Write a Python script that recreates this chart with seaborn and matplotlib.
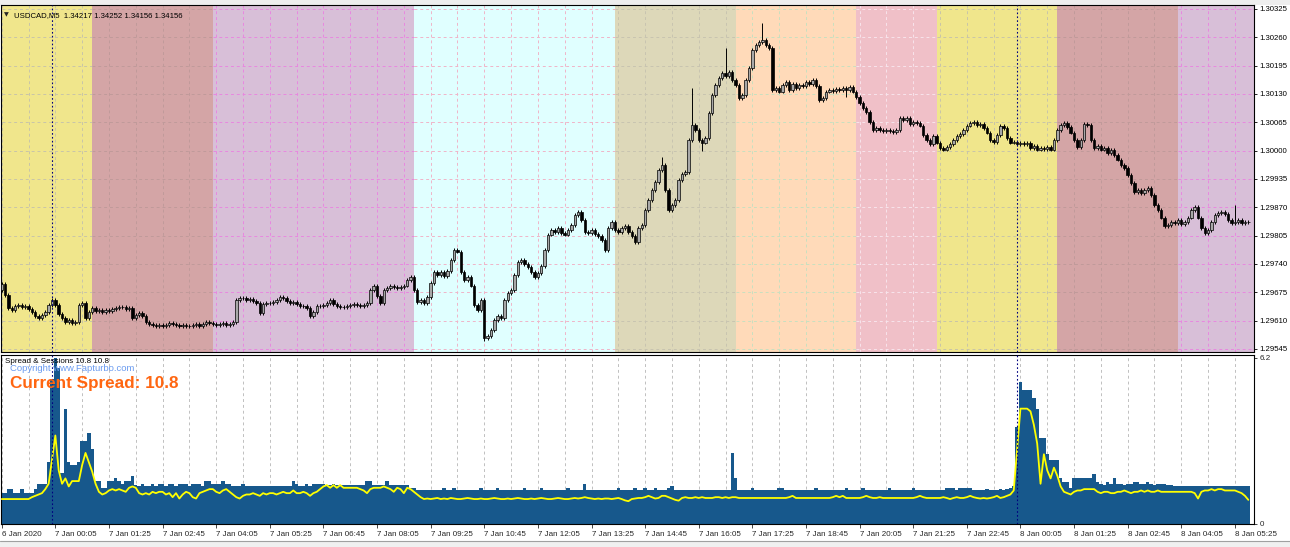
import numpy as np
import pandas as pd
import matplotlib
matplotlib.use("Agg")
import matplotlib.pyplot as plt
from matplotlib.patches import Rectangle
import seaborn as sns

# ---------------- data (5-minute bars, 6 Jan 22:45 -> 8 Jan 05:45) ----------------
FIRST_OPEN = 1.29680
CLOSE = [
    1.29694, 1.29669, 1.29639, 1.29634, 1.29644, 1.29646, 1.29641, 1.29644, 1.29637, 1.29630,
    1.29621, 1.29616, 1.29623, 1.29630, 1.29646, 1.29657, 1.29646, 1.29625, 1.29616, 1.29607,
    1.29611, 1.29605, 1.29607, 1.29646, 1.29650, 1.29616, 1.29630, 1.29639, 1.29632, 1.29634,
    1.29630, 1.29634, 1.29632, 1.29637, 1.29639, 1.29641, 1.29641, 1.29637, 1.29639, 1.29616,
    1.29623, 1.29628, 1.29621, 1.29607, 1.29602, 1.29600, 1.29598, 1.29600, 1.29598, 1.29600,
    1.29605, 1.29602, 1.29600, 1.29598, 1.29600, 1.29598, 1.29598, 1.29600, 1.29602, 1.29598,
    1.29602, 1.29607, 1.29605, 1.29602, 1.29600, 1.29602, 1.29605, 1.29600, 1.29602, 1.29607,
    1.29657, 1.29662, 1.29662, 1.29657, 1.29660, 1.29655, 1.29650, 1.29628, 1.29648, 1.29650,
    1.29650, 1.29653, 1.29657, 1.29664, 1.29662, 1.29655, 1.29650, 1.29653, 1.29648, 1.29644,
    1.29644, 1.29639, 1.29621, 1.29630, 1.29644, 1.29644, 1.29646, 1.29650, 1.29657, 1.29648,
    1.29644, 1.29641, 1.29641, 1.29644, 1.29646, 1.29648, 1.29646, 1.29644, 1.29646, 1.29650,
    1.29680, 1.29690, 1.29667, 1.29650, 1.29680, 1.29685, 1.29690, 1.29687, 1.29685, 1.29687,
    1.29690, 1.29703, 1.29710, 1.29680, 1.29653, 1.29657, 1.29650, 1.29664, 1.29696, 1.29722,
    1.29715, 1.29722, 1.29712, 1.29724, 1.29749, 1.29772, 1.29768, 1.29722, 1.29703, 1.29710,
    1.29690, 1.29646, 1.29634, 1.29657, 1.29570, 1.29575, 1.29589, 1.29611, 1.29621, 1.29616,
    1.29657, 1.29673, 1.29680, 1.29715, 1.29745, 1.29749, 1.29740, 1.29733, 1.29722, 1.29710,
    1.29719, 1.29735, 1.29772, 1.29807, 1.29818, 1.29813, 1.29823, 1.29811, 1.29807, 1.29818,
    1.29829, 1.29852, 1.29859, 1.29841, 1.29813, 1.29811, 1.29818, 1.29809, 1.29804, 1.29795,
    1.29772, 1.29823, 1.29836, 1.29818, 1.29813, 1.29823, 1.29827, 1.29813, 1.29804, 1.29790,
    1.29823, 1.29829, 1.29864, 1.29887, 1.29910, 1.29928, 1.29956, 1.29967, 1.29910, 1.29864,
    1.29875, 1.29887, 1.29933, 1.29946, 1.29951, 1.30024, 1.30059, 1.30047, 1.30024, 1.30018,
    1.30029, 1.30086, 1.30128, 1.30151, 1.30167, 1.30178, 1.30171, 1.30180, 1.30162, 1.30151,
    1.30121, 1.30128, 1.30162, 1.30190, 1.30231, 1.30242, 1.30249, 1.30254, 1.30242, 1.30235,
    1.30139, 1.30144, 1.30135, 1.30151, 1.30157, 1.30139, 1.30153, 1.30144, 1.30151, 1.30148,
    1.30157, 1.30153, 1.30162, 1.30148, 1.30116, 1.30121, 1.30135, 1.30139, 1.30137, 1.30141,
    1.30139, 1.30144, 1.30139, 1.30146, 1.30135, 1.30123, 1.30109, 1.30098, 1.30089, 1.30066,
    1.30047, 1.30052, 1.30047, 1.30045, 1.30047, 1.30045, 1.30043, 1.30047, 1.30075, 1.30070,
    1.30075, 1.30061, 1.30066, 1.30063, 1.30057, 1.30036, 1.30024, 1.30015, 1.30034, 1.30018,
    1.30006, 1.30002, 1.30008, 1.30015, 1.30024, 1.30034, 1.30038, 1.30047, 1.30057, 1.30063,
    1.30066, 1.30059, 1.30061, 1.30052, 1.30041, 1.30024, 1.30020, 1.30036, 1.30057, 1.30052,
    1.30029, 1.30018, 1.30020, 1.30015, 1.30018, 1.30015, 1.30018, 1.30006, 1.30011, 1.30002,
    1.30006, 1.30004, 1.30008, 1.30002, 1.30024, 1.30047, 1.30059, 1.30063, 1.30054, 1.30041,
    1.30024, 1.30008, 1.30024, 1.30061, 1.30059, 1.30024, 1.30006, 1.30011, 1.30002, 1.30006,
    1.29995, 1.30002, 1.29990, 1.29979, 1.29967, 1.29960, 1.29944, 1.29926, 1.29905, 1.29910,
    1.29903, 1.29910, 1.29914, 1.29898, 1.29875, 1.29864, 1.29846, 1.29827, 1.29829, 1.29836,
    1.29834, 1.29841, 1.29832, 1.29836, 1.29846, 1.29864, 1.29871, 1.29846, 1.29823, 1.29811,
    1.29818, 1.29836, 1.29852, 1.29857, 1.29859, 1.29855, 1.29841, 1.29834, 1.29836, 1.29841,
    1.29834, 1.29836, 1.29836,
]
HIGH_WICKS = {197: 1.29985, 206: 1.30144, 216: 1.30235, 227: 1.30293, 368: 1.29876}
LOW_WICKS = {144: 1.29563, 209: 1.30000, 252: 1.30122}

SPREAD = [
    1.15, 1.15, 1.3, 1.3, 1.15, 1.15, 1.3, 1.15, 1.15, 1.15,
    1.3, 1.5, 1.5, 1.5, 2.3, 5.4, 6.2, 5.8, 1.9, 4.3,
    2.3, 2.2, 2.2, 2.3, 3.1, 3.1, 3.4, 2.8, 1.6, 1.6,
    1.35, 1.35, 1.6, 1.6, 1.7, 1.6, 1.5, 1.6, 1.6, 1.8,
    1.45, 1.4, 1.5, 1.4, 1.4, 1.5, 1.4, 1.5, 1.5, 1.4,
    1.5, 1.5, 1.4, 1.5, 1.5, 1.5, 1.4, 1.5, 1.5, 1.5,
    1.4, 1.6, 1.6, 1.5, 1.5, 1.5, 1.6, 1.5, 1.5, 1.4,
    1.4, 1.4, 1.5, 1.4, 1.4, 1.4, 1.4, 1.4, 1.4, 1.4,
    1.4, 1.4, 1.4, 1.4, 1.4, 1.4, 1.4, 1.6, 1.5, 1.4,
    1.4, 1.5, 1.4, 1.5, 1.5, 1.5, 1.5, 1.45, 1.45, 1.5,
    1.45, 1.45, 1.45, 1.45, 1.45, 1.45, 1.45, 1.45, 1.45, 1.6,
    1.6, 1.45, 1.45, 1.45, 1.45, 1.6, 1.45, 1.45, 1.45, 1.45,
    1.45, 1.45, 1.35, 1.35, 1.25, 1.25, 1.25, 1.25, 1.25, 1.25,
    1.25, 1.25, 1.35, 1.25, 1.25, 1.35, 1.25, 1.25, 1.25, 1.25,
    1.25, 1.25, 1.25, 1.35, 1.25, 1.25, 1.25, 1.25, 1.35, 1.25,
    1.25, 1.25, 1.25, 1.25, 1.25, 1.25, 1.35, 1.25, 1.25, 1.25,
    1.25, 1.35, 1.25, 1.25, 1.25, 1.25, 1.25, 1.25, 1.25, 1.35,
    1.25, 1.25, 1.25, 1.25, 1.5, 1.25, 1.25, 1.25, 1.25, 1.25,
    1.25, 1.25, 1.25, 1.25, 1.35, 1.25, 1.25, 1.25, 1.25, 1.35,
    1.25, 1.25, 1.35, 1.25, 1.25, 1.35, 1.25, 1.25, 1.25, 1.35,
    1.4, 1.25, 1.25, 1.25, 1.25, 1.25, 1.25, 1.25, 1.25, 1.25,
    1.25, 1.25, 1.25, 1.25, 1.25, 1.25, 1.25, 1.25, 2.65, 1.7,
    1.25, 1.25, 1.25, 1.25, 1.35, 1.25, 1.25, 1.25, 1.25, 1.25,
    1.25, 1.25, 1.35, 1.35, 1.25, 1.25, 1.25, 1.25, 1.25, 1.25,
    1.25, 1.25, 1.25, 1.35, 1.25, 1.25, 1.25, 1.25, 1.25, 1.25,
    1.25, 1.25, 1.35, 1.25, 1.25, 1.25, 1.25, 1.35, 1.25, 1.25,
    1.25, 1.25, 1.25, 1.25, 1.25, 1.35, 1.25, 1.25, 1.25, 1.25,
    1.25, 1.25, 1.35, 1.25, 1.25, 1.25, 1.25, 1.25, 1.25, 1.25,
    1.25, 1.25, 1.35, 1.35, 1.35, 1.25, 1.35, 1.35, 1.35, 1.35,
    1.25, 1.25, 1.25, 1.25, 1.3, 1.25, 1.25, 1.25, 1.3, 1.25,
    1.3, 1.35, 1.4, 3.6, 5.3, 5.0, 5.0, 5.0, 4.7, 4.3,
    3.2, 3.2, 2.6, 2.4, 2.4, 2.4, 1.7, 1.55, 1.55, 1.35,
    1.7, 1.7, 1.7, 1.7, 1.7, 1.7, 1.85, 1.55, 1.5, 1.45,
    1.55, 1.5, 1.7, 1.5, 1.5, 1.45, 1.5, 1.5, 1.55, 1.55,
    1.5, 1.5, 1.55, 1.5, 1.45, 1.5, 1.5, 1.5, 1.45, 1.45,
    1.4, 1.4, 1.4, 1.4, 1.4, 1.4, 1.4, 1.4, 1.4, 1.4,
    1.4, 1.4, 1.4, 1.4, 1.4, 1.4, 1.4, 1.4, 1.4, 1.4,
    1.4, 1.4, 1.4,
]

AVG_SPREAD = [
    0.93, 0.93, 0.93, 0.93, 0.93, 0.93, 0.93, 0.93, 0.93, 1.0,
    1.05, 1.1, 1.15, 1.3, 1.5, 2.4, 3.3, 2.0, 1.5, 1.7,
    1.4, 1.6, 1.6, 1.6, 2.2, 2.65, 2.3, 1.95, 1.5, 1.2,
    1.1, 1.15, 1.25, 1.3, 1.25, 1.3, 1.25, 1.2, 1.35, 1.4,
    1.35, 1.15, 1.1, 1.15, 1.1, 1.2, 1.15, 1.2, 1.2, 1.1,
    1.15, 1.0, 1.15, 0.95, 1.1, 1.2, 1.15, 1.0, 0.95, 1.15,
    1.2, 1.25, 1.3, 1.3, 1.2, 1.15, 1.25, 1.3, 1.2, 1.1,
    1.0, 0.95, 1.05, 1.1, 1.1, 1.15, 1.1, 1.05, 1.15, 1.1,
    1.15, 1.15, 1.1, 1.15, 1.2, 1.15, 1.15, 1.25, 1.15, 1.15,
    1.2, 1.15, 1.05, 1.15, 1.2, 1.3, 1.4, 1.45, 1.35, 1.45,
    1.35, 1.45, 1.35, 1.35, 1.35, 1.35, 1.35, 1.3, 1.25, 1.15,
    1.3, 1.35, 1.35, 1.35, 1.4, 1.35, 1.3, 1.2, 1.35, 1.3,
    1.15, 1.35, 1.3, 1.2, 1.1, 1.0, 0.93, 0.95, 0.93, 0.95,
    0.97, 0.93, 0.95, 0.93, 0.97, 0.95, 0.93, 0.93, 0.95, 0.97,
    0.95, 0.93, 0.93, 0.95, 0.93, 0.93, 0.95, 0.97, 0.95, 0.93,
    0.93, 0.95, 0.93, 0.95, 0.97, 0.95, 0.93, 0.93, 0.95, 0.93,
    0.95, 0.97, 0.95, 0.93, 0.93, 0.95, 0.97, 0.95, 0.93, 0.93,
    0.95, 0.97, 0.95, 0.97, 1.0, 0.97, 0.95, 0.93, 0.95, 0.93,
    0.95, 0.95, 0.93, 0.95, 0.97, 0.93, 0.88, 0.85, 0.93, 0.95,
    0.97, 0.97, 1.0, 1.05, 1.0, 0.95, 0.97, 1.05, 1.05, 1.0,
    0.95, 0.9, 0.87, 0.97, 1.0, 0.97, 0.97, 1.0, 0.97, 1.0,
    0.97, 0.97, 0.97, 1.0, 1.0, 0.97, 1.0, 0.97, 1.0, 1.0,
    0.97, 0.97, 0.97, 0.97, 0.97, 0.97, 0.97, 0.97, 0.97, 0.97,
    0.97, 0.97, 0.97, 0.97, 0.97, 1.0, 1.05, 0.97, 0.97, 0.97,
    0.97, 0.97, 0.97, 0.97, 0.97, 0.97, 0.97, 0.97, 1.0, 1.05,
    1.0, 1.05, 0.97, 0.97, 0.97, 0.97, 0.97, 1.0, 1.05, 1.0,
    0.97, 0.97, 1.0, 0.97, 0.97, 0.97, 0.97, 0.97, 0.97, 0.97,
    0.97, 0.97, 0.97, 1.0, 1.05, 1.0, 0.97, 0.97, 0.97, 0.97,
    0.97, 1.0, 0.97, 0.93, 0.97, 1.0, 0.97, 0.97, 1.0, 1.05,
    1.0, 0.97, 0.95, 0.97, 0.95, 0.97, 1.0, 1.05, 0.97, 1.0,
    1.05, 1.1, 1.25, 2.8, 4.3, 4.3, 4.3, 4.2, 3.7, 3.0,
    1.5, 2.6, 2.0, 1.7, 2.1, 1.8, 1.4, 1.2, 1.15, 1.1,
    1.2, 1.25, 1.25, 1.3, 1.3, 1.3, 1.3, 1.2, 1.15, 1.2,
    1.2, 1.15, 1.15, 1.2, 1.2, 1.25, 1.2, 1.15, 1.2, 1.2,
    1.25, 1.2, 1.25, 1.2, 1.2, 1.25, 1.2, 1.2, 1.2, 1.2,
    1.2, 1.2, 1.2, 1.2, 1.2, 1.2, 1.15, 0.95, 1.2, 1.25,
    1.25, 1.3, 1.25, 1.3, 1.3, 1.25, 1.25, 1.25, 1.25, 1.2,
    1.15, 1.05, 0.9,
]

# trading-session background blocks (bar index where each starts)
SESSION_START = [0, 27, 63, 123, 183, 219, 255, 279, 315, 351]
SESSION_COLOR = ["#F0E68C", "#D4A5A6", "#D8BFD8", "#E0FFFF", "#DDD8B9",
                 "#FFDAB9", "#F0C0C8", "#F0E68C", "#D4A5A6", "#D8BFD8"]
SESSION_GRID = ["#C8C4A8", "#C09A9A", "#E888E0", "#F0B4C8", "#C8C4B0",
                "#C8E0C0", "#F8E4EC", "#C8C4A8", "#C09A9A", "#E888E0"]

PRICE_TICKS = [1.29545, 1.29610, 1.29675, 1.29740, 1.29805, 1.29870, 1.29935,
               1.30000, 1.30065, 1.30130, 1.30195, 1.30260, 1.30325]
SPREAD_TICKS = [0, 6.2]
SPREAD_TICK_LABELS = ["0", "6.2"]
XTICK_BARS = list(range(0, 369, 16))
XTICK_LABELS = ["6 Jan 2020", "7 Jan 00:05", "7 Jan 01:25", "7 Jan 02:45", "7 Jan 04:05",
                "7 Jan 05:25", "7 Jan 06:45", "7 Jan 08:05", "7 Jan 09:25", "7 Jan 10:45",
                "7 Jan 12:05", "7 Jan 13:25", "7 Jan 14:45", "7 Jan 16:05", "7 Jan 17:25",
                "7 Jan 18:45", "7 Jan 20:05", "7 Jan 21:25", "7 Jan 22:45", "8 Jan 00:05",
                "8 Jan 01:25", "8 Jan 02:45", "8 Jan 04:05", "8 Jan 05:25"]
DAY_SEPARATORS = [15, 303]

# ---------------- figure ----------------
sns.set_theme(style="white")
plt.rcParams['font.family'] = ['Liberation Sans', 'DejaVu Sans']
plt.rcParams['axes.edgecolor'] = 'black'
plt.rcParams['axes.linewidth'] = 0.8

W, H = 1290, 547
fig = plt.figure(figsize=(W / 100, H / 100), dpi=100, facecolor='white')


def box(x0, y0, x1, y1):
    return [x0 / W, 1 - y1 / H, (x1 - x0) / W, (y1 - y0) / H]


ax = fig.add_axes(box(1, 5, 1254, 352))
ax2 = fig.add_axes(box(1, 355, 1254, 524))

n = len(CLOSE)
idx = np.arange(n)
close = np.array(CLOSE)
open_ = np.concatenate([[FIRST_OPEN], close[:-1]])
WICK = 0.00004
high = np.maximum(open_, close) + WICK
low = np.minimum(open_, close) - WICK
for k, v in HIGH_WICKS.items():
    high[k] = v
for k, v in LOW_WICKS.items():
    low[k] = v

XMIN, XMAX = -0.22, 373.7
PMIN, PMAX = 1.29538, 1.30334
DASH = (0, (3, 3))

# session bands + grid
ends = SESSION_START[1:] + [XMAX]
for s, e, c, g in zip(SESSION_START, ends, SESSION_COLOR, SESSION_GRID):
    ax.axvspan(s, e, color=c, lw=0, zorder=0)
    gx = [x for x in range(0, 380, 8) if s <= x < e]
    if gx:
        ax.vlines(gx, PMIN, PMAX, colors=g, linestyles=DASH, lw=0.7, zorder=1)
    ax.hlines(PRICE_TICKS, s, e, colors=g, linestyles=DASH, lw=0.7, zorder=1)

# candles
up = close > open_
ax.vlines(idx, low, high, color='black', lw=0.7, zorder=3)
ax.bar(idx[up], (close - open_)[up], bottom=open_[up], width=0.72,
       color='#A8A8A8', edgecolor='black', lw=0.5, zorder=4)
ax.bar(idx[~up], (open_ - close)[~up], bottom=close[~up], width=0.72,
       color='black', edgecolor='black', lw=0.5, zorder=4)

for d in DAY_SEPARATORS:
    ax.axvline(d, color='#000080', ls=(0, (1.5, 2)), lw=0.8, zorder=5)
    ax2.axvline(d, color='#000080', ls=(0, (1.5, 2)), lw=0.8, zorder=5)

ax.set_xlim(XMIN, XMAX)
ax.set_ylim(PMIN, PMAX)
ax.set_xticks([])
ax.yaxis.tick_right()
ax.set_yticks(PRICE_TICKS)
ax.set_yticklabels([f"{p:.5f}" for p in PRICE_TICKS], fontsize=5.6)
ax.tick_params(axis='y', right=True, left=False, direction='out', length=2.5,
               width=0.6, pad=1.5, colors='black')

# spread panel
ax2.vlines(list(range(0, 380, 8)), 0, 6.3, colors='#C0C0C0', linestyles=DASH,
           lw=0.7, zorder=1)
ax2.bar(idx, SPREAD, width=1.0, color='#17588C', lw=0, zorder=2)
df = pd.DataFrame({"bar": idx, "avg": AVG_SPREAD})
sns.lineplot(data=df, x="bar", y="avg", ax=ax2, color='#FFFF00', lw=1.3, zorder=3)
ax2.set_xlabel("")
ax2.set_ylabel("")
ax2.set_xlim(XMIN, XMAX)
ax2.set_ylim(0, 6.3)
ax2.yaxis.tick_right()
ax2.set_yticks(SPREAD_TICKS)
ax2.set_yticklabels(SPREAD_TICK_LABELS, fontsize=5.8)
ax2.tick_params(axis='y', right=True, left=False, direction='out', length=2.5,
                width=0.6, pad=1.5)
ax2.set_xticks(XTICK_BARS)
ax2.set_xticklabels(XTICK_LABELS, fontsize=5.8)
for lab in ax2.get_xticklabels():
    lab.set_horizontalalignment('left')
ax2.tick_params(axis='x', bottom=True, direction='out', length=3, width=0.6, pad=2)

# texts


def fx(x):
    return x / W


def fy(y):
    return 1 - y / H


fig.text(fx(4), fy(16), "\u25BC", fontsize=4.5, family=['DejaVu Sans'], va='baseline')
fig.text(fx(14), fy(17), "USDCAD,M5  1.34217 1.34252 1.34156 1.34156", fontsize=5.6,
         va='baseline', color='black')
fig.text(fx(5), fy(363), "Spread & Sessions 10.8 10.8", fontsize=5.8, va='baseline',
         color='black')
fig.text(fx(10), fy(371), "Copyright www.Fapturbo.com", fontsize=6.8, va='baseline',
         color='#6A9BF0')
fig.text(fx(10), fy(388), "Current Spread: 10.8", fontsize=12.3, fontweight='bold',
         va='baseline', color='#FF6611')

# window chrome strips
fig.patches.append(Rectangle((0, fy(5)), 1, 5 / H, transform=fig.transFigure,
                             facecolor='#EEEEEE', edgecolor='none', zorder=-1))
fig.patches.append(Rectangle((0, 0), 1, 6 / H, transform=fig.transFigure,
                             facecolor='#F0F0F0', edgecolor='none', zorder=-1))
fig.add_artist(plt.Line2D([0, 1], [6 / H, 6 / H], transform=fig.transFigure,
                          color='#A0A0A0', lw=0.8))

fig.savefig("out.png", dpi=100, facecolor='white')
